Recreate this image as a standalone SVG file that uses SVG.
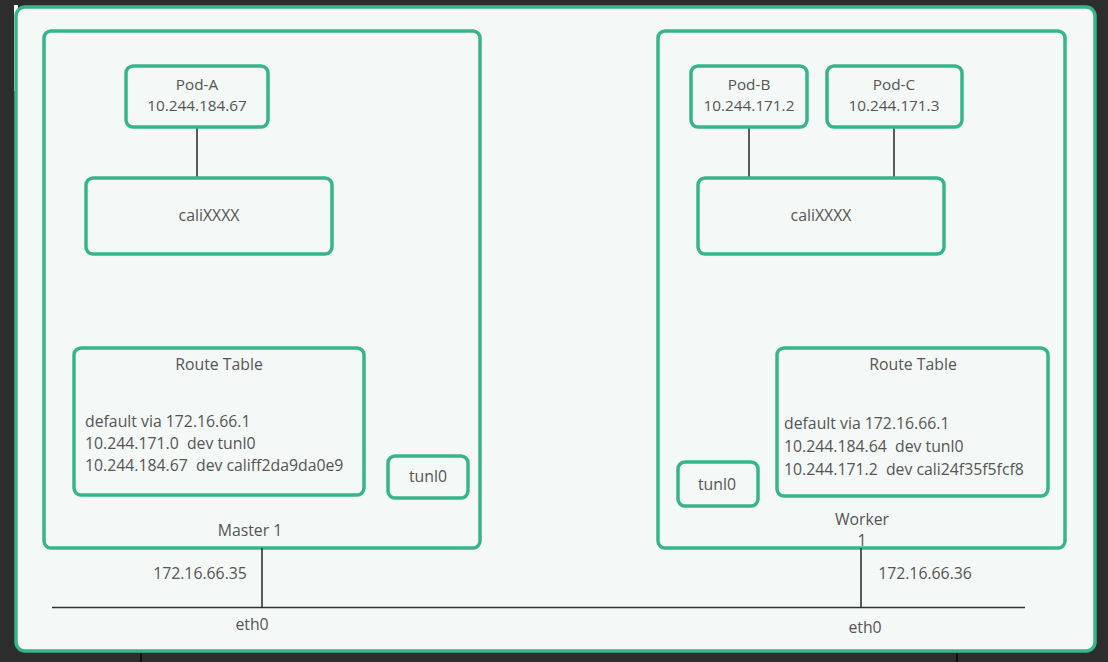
<svg xmlns="http://www.w3.org/2000/svg" width="1108" height="662" viewBox="0 0 1108 662">
<style>
.box{fill:#f4f8f7;stroke:#38b48c;stroke-width:3.5}
.t{font-family:"Open Sans","Noto Sans",sans-serif;font-size:15.8px;fill:#555555;white-space:pre}
.p{font-size:15.3px}
.c{text-anchor:middle}
.ln{stroke:#333333;stroke-width:1.6;fill:none}
</style>
<rect x="0" y="0" width="1108" height="662" fill="#2d2d2d"/>
<line x1="141" y1="650" x2="141" y2="662" stroke="#111" stroke-width="2"/>
<line x1="957" y1="650" x2="957" y2="662" stroke="#111" stroke-width="2"/>
<rect x="14" y="5" width="4" height="86" fill="#ffffff"/>
<g id="frame"><rect class="box" x="16" y="7" width="1079" height="644" rx="9"/></g>
<g id="master1"><rect class="box" x="44" y="31" width="436" height="517" rx="7"/><text class="t c" x="250" y="536">Master 1</text></g>
<g id="worker1"><rect class="box" x="658" y="31" width="407" height="517" rx="7"/><text class="t c" x="862" y="525">Worker</text><text class="t c" x="862" y="546">1</text></g>
<g id="connectors">
<line class="ln" x1="197" y1="127" x2="197" y2="178"/>
<line class="ln" x1="749" y1="127" x2="749" y2="178"/>
<line class="ln" x1="894" y1="127" x2="894" y2="178"/>
<line class="ln" x1="262" y1="548" x2="262" y2="607"/>
<line class="ln" x1="861" y1="548" x2="861" y2="607"/>
<line class="ln" x1="52" y1="607.5" x2="1025" y2="607.5"/>
</g>
<g id="pod-a"><rect class="box" x="126" y="66" width="142" height="61" rx="7"/><text class="t p c" x="197" y="90">Pod-A</text><text class="t p c" x="197" y="111">10.244.184.67</text></g>
<g id="cali-master"><rect class="box" x="86" y="178" width="246" height="76" rx="7"/><text class="t c" x="209" y="221">caliXXXX</text></g>
<g id="route-master"><rect class="box" x="74" y="348" width="290" height="147" rx="7"/><text class="t c" x="219" y="370">Route Table</text>
<text class="t" x="85" y="427" xml:space="preserve">default via 172.16.66.1</text>
<text class="t" x="85" y="449" xml:space="preserve">10.244.171.0  dev tunl0</text>
<text class="t" x="85" y="471" xml:space="preserve">10.244.184.67  dev califf2da9da0e9</text></g>
<g id="tunl0-master"><rect class="box" x="388" y="456" width="80" height="42" rx="7"/><text class="t c" x="428" y="482">tunl0</text></g>
<g id="pod-b"><rect class="box" x="691" y="66" width="116" height="61" rx="7"/><text class="t p c" x="749" y="90">Pod-B</text><text class="t p c" x="749" y="111">10.244.171.2</text></g>
<g id="pod-c"><rect class="box" x="827" y="66" width="135" height="61" rx="7"/><text class="t p c" x="894" y="90">Pod-C</text><text class="t p c" x="894" y="111">10.244.171.3</text></g>
<g id="cali-worker"><rect class="box" x="698" y="178" width="246" height="76" rx="7"/><text class="t c" x="821" y="221">caliXXXX</text></g>
<g id="route-worker"><rect class="box" x="777" y="348" width="271" height="148" rx="7"/><text class="t c" x="913" y="370">Route Table</text>
<text class="t" x="784" y="429" xml:space="preserve">default via 172.16.66.1</text>
<text class="t" x="784" y="452" xml:space="preserve">10.244.184.64  dev tunl0</text>
<text class="t" x="784" y="475" xml:space="preserve">10.244.171.2  dev cali24f35f5fcf8</text></g>
<g id="tunl0-worker"><rect class="box" x="678" y="462" width="80" height="44" rx="7"/><text class="t c" x="717" y="490">tunl0</text></g>
<g id="labels">
<text class="t c" x="200" y="579">172.16.66.35</text>
<text class="t c" x="925" y="579">172.16.66.36</text>
<text class="t c" x="252" y="630">eth0</text>
<text class="t c" x="865" y="633">eth0</text>
</g>
</svg>
